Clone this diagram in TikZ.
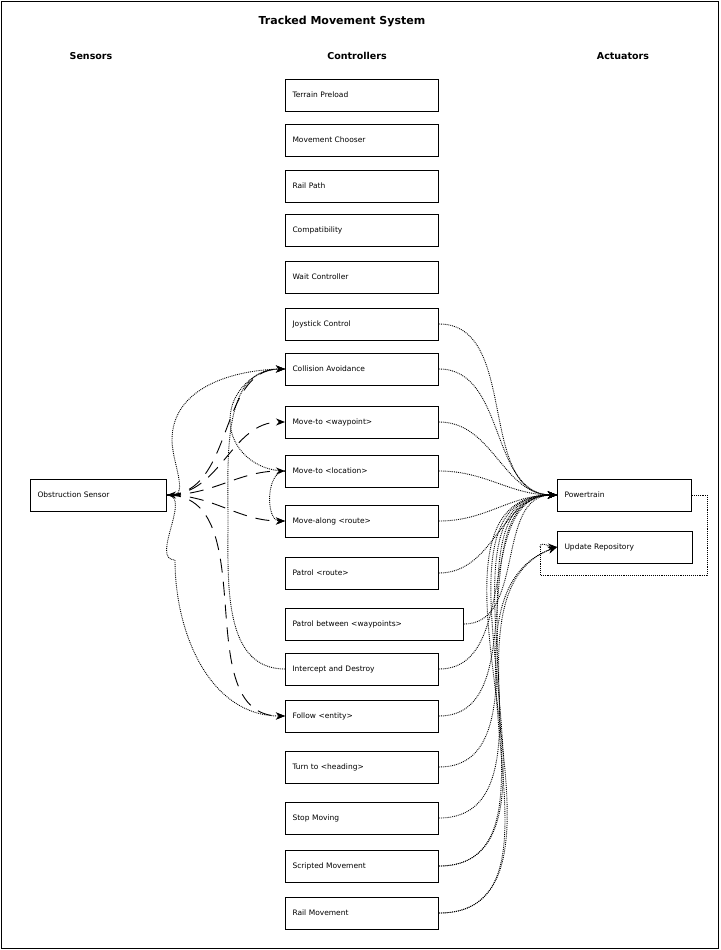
\documentclass[tikz,border=0pt]{standalone}
\usepackage{fontspec}
\setmainfont{DejaVu Sans}
\usetikzlibrary{arrows.meta}
\begin{document}
\begin{tikzpicture}[x=1pt,y=-1pt,
 box/.style={draw,line width=1pt,minimum height=32pt,inner sep=0pt,font=\fontsize{7.5}{9}\selectfont,anchor=west,text width=#1,align=left},
 dot/.style={densely dotted,line width=0.9pt,-{Stealth[length=9pt,width=7pt]}},
 dsh/.style={dash pattern=on 14pt off 9pt,line width=0.9pt,-{Stealth[length=9pt,width=7pt]}},
 hd/.style={font=\bfseries\fontsize{9.5}{11}\selectfont}]
\useasboundingbox (0,0) rectangle (720,950);
\draw[line width=1pt] (1.5,1.5) rectangle (718.5,948.5);
\node[font=\bfseries\fontsize{11}{13}\selectfont] (title) at (342,22) {Tracked Movement System};
\node[hd] (hs) at (91,56) {Sensors};
\node[hd] (hc) at (357,56) {Controllers};
\node[hd] (ha) at (623,56) {Actuators};
\foreach \n/\t/\y/\w in {c1/Terrain Preload/95/153, c2/Movement Chooser/140/153, c3/Rail Path/186/153, c4/Compatibility/230/153, c5/Wait Controller/277/153, c6/Joystick Control/324/153, c7/Collision Avoidance/369/153, c8/Move-to <waypoint>/422/153, c9/Move-to <location>/471/153, c10/Move-along <route>/521/153, c11/Patrol <route>/573/153, c12/Patrol between <waypoints>/624/178, c13/Intercept and Destroy/669/153, c14/Follow <entity>/716/153, c15/Turn to <heading>/767/153, c16/Stop Moving/818/153, c17/Scripted Movement/866/153, c18/Rail Movement/913/153}
 \node[box=\w pt] (\n) at (285,\y) {\hspace{7pt}\t};
\node[box=136pt] (obs) at (30,495) {\hspace{7pt}Obstruction Sensor};
\node[box=134pt] (pt) at (557,495) {\hspace{7pt}Powertrain};
\node[box=135pt] (ur) at (557,547) {\hspace{7pt}Update Repository};
\foreach \c in {c6,c7,c8,c9,c10,c11,c12,c13,c14,c15,c16,c17,c18}
 \draw[dot] (\c.east) to[out=0,in=180] (pt.west);
\foreach \c in {c17,c18}
 \draw[dot] (\c.east) to[out=0,in=200] (ur.west);
\coordinate (r1) at (707,495);
\coordinate (r2) at (707,575);
\coordinate (r3) at (540,575);
\coordinate (r4) at (540,547);
\draw[densely dotted,line width=0.9pt] (pt.east) -- (r1) -- (r2) -- (r3) -- (r4);
\draw[dot] (r4) to[out=90,in=180] (ur.west);
\foreach \c in {c7,c8,c9,c10,c14}
 \draw[dsh] (obs.east) to[out=0,in=180] (\c.west);
\draw[dot] (c7.west) to[out=180,in=90] (172,440) to[out=-90,in=0] (obs.east);
\draw[dot] (obs.east) to[out=0,in=180] (175,560) to[out=-90,in=180] (c14.west);
\draw[dot] (c13.west) to[out=180,in=-90] (228,520) to[out=90,in=180] (c7.west);
\draw[dot] (c9.west) to[out=180,in=-90] (230,420) to[out=90,in=180] (c7.west);
\draw[dot] (c9.west) to[out=180,in=180] (c10.west);
\end{tikzpicture}
\end{document}
